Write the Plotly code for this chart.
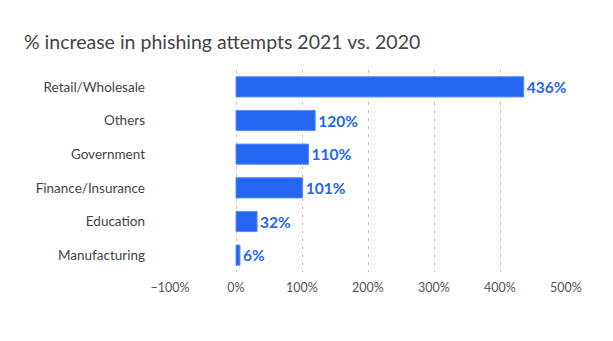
import plotly.graph_objects as go

categories = ["Retail/Wholesale", "Others", "Government", "Finance/Insurance", "Education", "Manufacturing"]
increase_pct = [436, 120, 110, 101, 32, 6]
tick_values = [-100, 0, 100, 200, 300, 400, 500]
tick_labels = ["−100%", "0%", "100%", "200%", "300%", "400%", "500%"]

bar_color = "#2466f2"

fig = go.Figure(
    go.Bar(
        x=increase_pct,
        y=categories,
        orientation="h",
        width=0.6,
        marker=dict(color=bar_color, line=dict(color="#5b8ef5", width=1)),
        text=[f"{v}%" for v in increase_pct],
        textposition="outside",
        cliponaxis=False,
        textfont=dict(family="Lato", size=15.5, color=bar_color, weight="bold"),
    )
)

fig.update_layout(
    width=613,
    height=341,
    margin=dict(l=170, r=47, t=70, b=69),
    paper_bgcolor="white",
    plot_bgcolor="white",
    showlegend=False,
    font=dict(family="Lato", color="#444444"),
    title=dict(
        text="% increase in phishing attempts 2021 vs. 2020",
        x=24 / 613,
        xanchor="left",
        y=1 - 42 / 341,
        yanchor="middle",
        font=dict(family="Lato", size=19.5, color="#444444"),
    ),
    xaxis=dict(
        range=[-100, 500],
        tickvals=tick_values,
        ticktext=tick_labels,
        showgrid=True,
        gridcolor="#c4c4c4",
        griddash="3px,5px",
        gridwidth=1,
        zeroline=False,
        showline=False,
        tickfont=dict(family="Lato", size=12.5, color="#555555"),
        ticklabelstandoff=6,
    ),
    yaxis=dict(
        autorange="reversed",
        showgrid=False,
        zeroline=False,
        showline=False,
        tickfont=dict(family="Lato", size=13.5, color="#444444"),
        ticklabelstandoff=24,
    ),
)

fig.write_html("out.html")
